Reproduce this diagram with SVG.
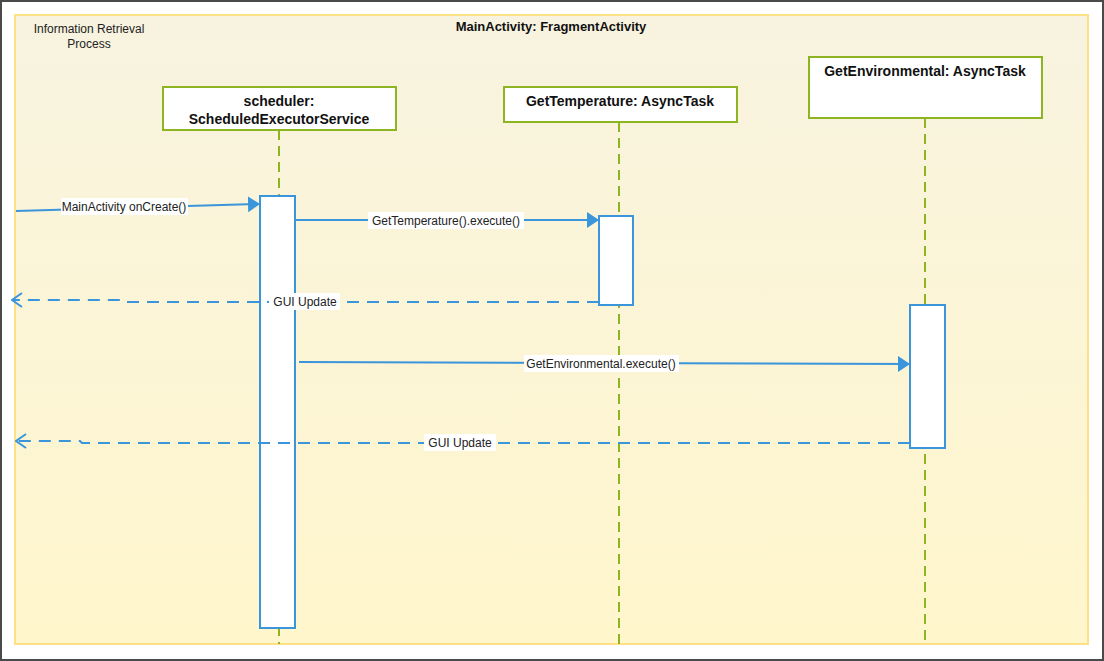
<svg xmlns="http://www.w3.org/2000/svg" width="1104" height="661" viewBox="0 0 1104 661">
<style>
.lbl{font-family:"Liberation Sans",Arial,sans-serif;font-size:12px;fill:#222}
.hdr{font-family:"Liberation Sans",Arial,sans-serif;font-size:14px;font-weight:bold;fill:#111}
.box{fill:#fff;stroke:#8cb521;stroke-width:2}
.life{stroke:#8cb521;stroke-width:2;stroke-dasharray:10 6;fill:none}
.act{fill:#fff;stroke:#3a95db;stroke-width:2}
.msg{stroke:#3a95db;stroke-width:2;fill:none}
.ret{stroke:#3a95db;stroke-width:2;fill:none;stroke-dasharray:12 8}
.tag{fill:#fff}
</style>
<defs>
<linearGradient id="bg" x1="0" y1="0" x2="0" y2="1">
<stop offset="0" stop-color="#f8f3e0"/>
<stop offset="1" stop-color="#fff6cc"/>
</linearGradient>
<marker id="fill" viewBox="0 0 12 16" refX="12" refY="8" markerWidth="12" markerHeight="16" markerUnits="userSpaceOnUse" orient="auto"><path d="M0,0 L12,8 L0,16 Z" fill="#3a95db"/></marker>
<marker id="open" viewBox="0 0 12 16" refX="11" refY="8" markerWidth="12" markerHeight="16" markerUnits="userSpaceOnUse" orient="auto"><path d="M1,1 L11,8 L1,15" fill="none" stroke="#3a95db" stroke-width="2"/></marker>
</defs>
<rect x="0" y="0" width="1104" height="661" fill="#fff"/>
<rect x="1" y="1" width="1102" height="659" fill="none" stroke="#4a4a4a" stroke-width="2"/>
<g id="frame">
<rect x="15" y="15" width="1073" height="629" fill="url(#bg)" stroke="#ffe084" stroke-width="2"/>
<text class="hdr" x="551" y="31" text-anchor="middle" style="font-size:13px">MainActivity: FragmentActivity</text>
<text class="lbl" x="89" y="33" text-anchor="middle">Information Retrieval</text>
<text class="lbl" x="89" y="48" text-anchor="middle">Process</text>
</g>
<g id="scheduler">
<line class="life" x1="279" y1="130" x2="279" y2="644"/>
<rect class="box" x="163" y="87" width="233" height="43"/>
<text class="hdr" x="279" y="106" text-anchor="middle">scheduler:</text>
<text class="hdr" x="279" y="124" text-anchor="middle">ScheduledExecutorService</text>
<rect class="act" x="260" y="196" width="35" height="432"/>
</g>
<g id="getTemperature">
<line class="life" x1="619" y1="122" x2="619" y2="644"/>
<rect class="box" x="504" y="87" width="233" height="35"/>
<text class="hdr" x="620" y="106" text-anchor="middle">GetTemperature: AsyncTask</text>
<rect class="act" x="599" y="216" width="34" height="89"/>
</g>
<g id="getEnvironmental">
<line class="life" x1="925" y1="118" x2="925" y2="644"/>
<rect class="box" x="809" y="57" width="233" height="61"/>
<text class="hdr" x="925" y="76" text-anchor="middle">GetEnvironmental: AsyncTask</text>
<rect class="act" x="910" y="305" width="35" height="143"/>
</g>
<g id="connectors">
<line class="msg" x1="16" y1="211" x2="260" y2="204" marker-end="url(#fill)"/>
<rect class="tag" x="61" y="198" width="127" height="17"/>
<text class="lbl" x="124" y="211" text-anchor="middle">MainActivity onCreate()</text>
<line class="msg" x1="295" y1="220" x2="599" y2="220" marker-end="url(#fill)"/>
<rect class="tag" x="368" y="212" width="156" height="17"/>
<text class="lbl" x="446" y="225" text-anchor="middle">GetTemperature().execute()</text>
<polyline class="ret" points="599,302 122,302 120,300 12,300" marker-end="url(#open)"/>
<rect class="tag" x="269" y="293" width="71" height="17"/>
<text class="lbl" x="305" y="306" text-anchor="middle">GUI Update</text>
<line class="msg" x1="299" y1="362" x2="910" y2="364" marker-end="url(#fill)"/>
<rect class="tag" x="524" y="355" width="155" height="17"/>
<text class="lbl" x="601" y="368" text-anchor="middle">GetEnvironmental.execute()</text>
<polyline class="ret" points="910,443 82,443 80,441 16,441" marker-end="url(#open)"/>
<rect class="tag" x="424" y="434" width="72" height="17"/>
<text class="lbl" x="460" y="447" text-anchor="middle">GUI Update</text>
</g>
</svg>
